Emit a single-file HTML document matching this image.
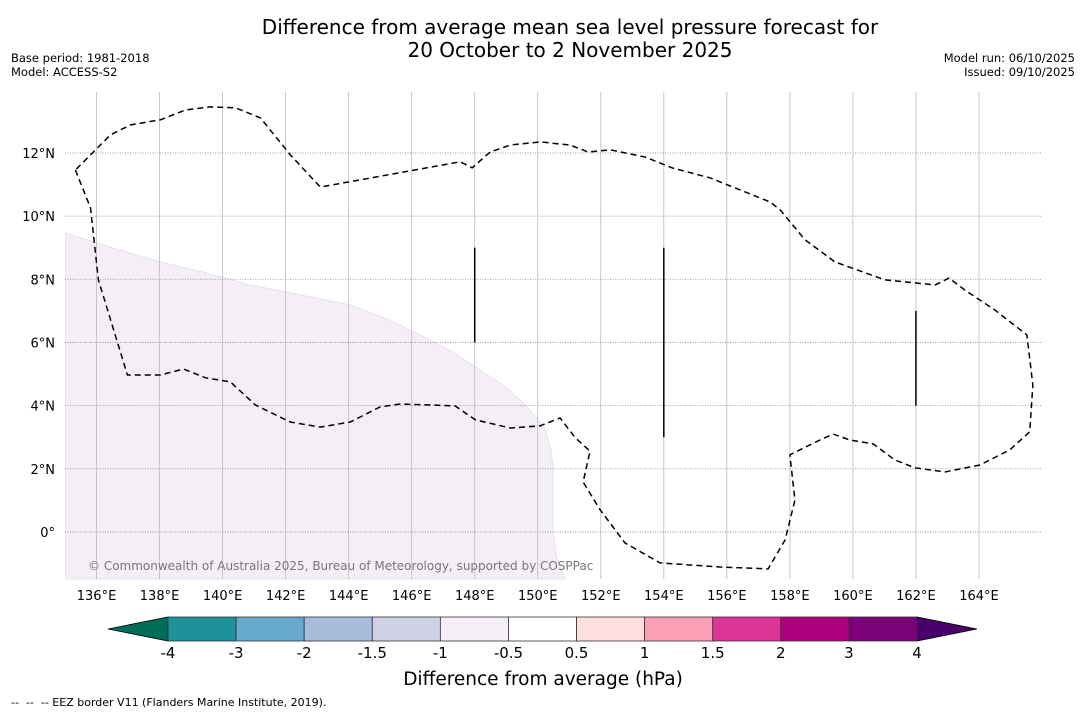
<!DOCTYPE html>
<html><head><meta charset="utf-8">
<style>
html,body{margin:0;padding:0;background:#fff;}
body{width:1085px;height:713px;overflow:hidden;font-family:"DejaVu Sans","Liberation Sans",sans-serif;}
svg text{font-family:"DejaVu Sans","Liberation Sans",sans-serif;}
</style></head>
<body>
<svg id="chart" width="1085" height="713" viewBox="0 0 1085 713" xmlns="http://www.w3.org/2000/svg">
<text x="570" y="34" font-size="20" text-anchor="middle">Difference from average mean sea level pressure forecast for</text>
<text x="570" y="57" font-size="20" text-anchor="middle">20 October to 2 November 2025</text>
<text x="11" y="62" font-size="11.5">Base period: 1981-2018</text>
<text x="11" y="76" font-size="11.5">Model: ACCESS-S2</text>
<text x="1075" y="62" font-size="11.5" text-anchor="end">Model run: 06/10/2025</text>
<text x="1075" y="76" font-size="11.5" text-anchor="end">Issued: 09/10/2025</text>
<g id="map"></g>
<g id="cbar"></g>
<text x="543" y="685" font-size="18.5" text-anchor="middle">Difference from average (hPa)</text>
<text x="11" y="706" font-size="11" style="white-space:pre">--  --  -- EEZ border V11 (Flanders Marine Institute, 2019).</text>
</svg>
<script>
const lonTicks=[136,138,140,142,144,146,148,150,152,154,156,158,160,162,164];
const latTicks=[0,2,4,6,8,10,12];
const eezLon=[135.33,135.81,136.06,136.98,138.03,138.76,139.46,140.25,141.04,142.15,143.10,144.05,145.00,145.64,146.59,147.38,148.02,149.13,150.08,150.71,151.19,151.66,151.44,151.98,152.77,153.88,155.78,157.31,157.85,158.16,158.00,158.32,158.95,159.37,159.91,160.64,161.33,161.97,162.92,164.03,164.98,165.61,165.71,165.52,164.50,163.55,163.05,162.61,161.02,159.43,158.48,157.69,157.37,156.42,155.47,154.26,153.41,152.30,151.60,151.03,150.08,149.13,148.49,147.92,147.54,143.10,142.15,141.20,140.41,139.61,138.82,138.03,137.08,136.44,135.81,135.33];
const eezLat=[11.46,10.26,7.98,4.97,4.97,5.16,4.88,4.75,4.02,3.48,3.32,3.48,3.96,4.05,4.02,3.99,3.55,3.29,3.36,3.61,2.98,2.56,1.58,0.70,-0.35,-0.98,-1.11,-1.17,-0.25,1.01,2.44,2.60,2.91,3.10,2.91,2.79,2.28,2.03,1.90,2.12,2.60,3.17,4.65,6.24,7.03,7.66,8.04,7.82,7.98,8.55,9.25,10.20,10.45,10.83,11.21,11.53,11.87,12.10,12.03,12.25,12.35,12.25,12.03,11.53,11.72,10.92,11.94,13.11,13.43,13.46,13.36,13.05,12.89,12.57,11.94,11.46];
const shadeLon=[135.02,136.5,138.03,139.5,140.88,142.5,144.05,145.2,146.27,147.3,148.17,148.9,149.44,149.9,150.24,150.42,150.49,150.49,150.6,150.87,135.02];
const shadeLat=[9.47,9.0,8.55,8.2,7.82,7.5,7.19,6.75,6.24,5.7,5.13,4.65,4.18,3.7,3.23,2.6,1.96,0.06,-0.8,-1.49,-1.49];
const segLon=[148,154,162];
const segLat0=[6,3,4];
const segLat1=[9,9,7];
const cbLevels=["-4","-3","-2","-1.5","-1","-0.5","0.5","1","1.5","2","3","4"];
const cbColors=["#1f9199","#67a9cf","#a6bddb","#d0d1e6","#f4eef6","#ffffff","#fde0dd","#fa9fb5","#dd3497","#ae017e","#7a0177"];
const NS="http://www.w3.org/2000/svg";
const X0=65,X1=1042,Y0=92,Y1=579;
const lonMin=135.0,lonMax=166.0,latMin=-1.49,latMax=13.93;
const xs=l=>X0+(l-lonMin)/(lonMax-lonMin)*(X1-X0);
const ys=l=>Y1-(l-latMin)/(latMax-latMin)*(Y1-Y0);
function mk(tag,attrs,parent){const e=document.createElementNS(NS,tag);for(const k in attrs)e.setAttribute(k,attrs[k]);parent.appendChild(e);return e;}
const map=document.getElementById('map');
const shadePts=shadeLon.map((l,i)=>xs(l)+','+ys(shadeLat[i])).join(' ');
const sh=mk('polygon',{points:shadePts,fill:'#f4eef6',stroke:'#e4dde8','stroke-width':0.8},map);


lonTicks.forEach(l=>{
 const g=mk('line',{x1:xs(l),x2:xs(l),y1:Y0,y2:Y1,stroke:'#bbb','stroke-width':0.8},map);
 
 
 const t=mk('text',{x:xs(l),y:600,'font-size':13,'text-anchor':'middle'},map);
 t.textContent=l+'°E';
 
 
});
latTicks.forEach(l=>{
 const g=mk('line',{x1:X0,x2:X1,y1:ys(l),y2:ys(l),stroke:'#888','stroke-width':0.8,'stroke-dasharray':'1,1.5'},map);
 
 
 const t=mk('text',{x:55,y:ys(l)+5,'font-size':13,'text-anchor':'end'},map);
 t.textContent=l===0?'0°':l+'°N';
 
 
});
const eezPts=eezLon.map((l,i)=>xs(l)+','+ys(eezLat[i])).join(' ');
const ez=mk('polyline',{points:eezPts,fill:'none',stroke:'#000','stroke-width':1.5,'stroke-dasharray':'6,4'},map);


segLon.forEach((l,i)=>{
 const s=mk('line',{x1:xs(l),x2:xs(l),y1:ys(segLat0[i]),y2:ys(segLat1[i]),stroke:'#000','stroke-width':1.5},map);
 
 
});
const cr=mk('text',{x:88,y:570,'font-size':12,fill:'#777'},map);
cr.textContent='© Commonwealth of Australia 2025, Bureau of Meteorology, supported by COSPPac';


const cb=document.getElementById('cbar');
const CB0=168,CB1=917,CBY=617,CBH=24;
const w=(CB1-CB0)/cbColors.length;
const le=mk('polygon',{points:`${CB0},${CBY} ${CB0},${CBY+CBH} 108,${CBY+CBH/2}`,fill:'#006d5b',stroke:'#000','stroke-width':0.8},cb);


const re=mk('polygon',{points:`${CB1},${CBY} ${CB1},${CBY+CBH} 977,${CBY+CBH/2}`,fill:'#49006a',stroke:'#000','stroke-width':0.8},cb);


cbColors.forEach((c,i)=>{
 const r=mk('rect',{x:CB0+i*w,y:CBY,width:w,height:CBH,fill:c,stroke:'#333','stroke-width':0.8},cb);
 
 
});
cbLevels.forEach((v,i)=>{
 const t=mk('text',{x:CB0+i*w,y:658,'font-size':15,'text-anchor':'middle'},cb);
 t.textContent=v;
 
 
});
</script>
</body></html>
